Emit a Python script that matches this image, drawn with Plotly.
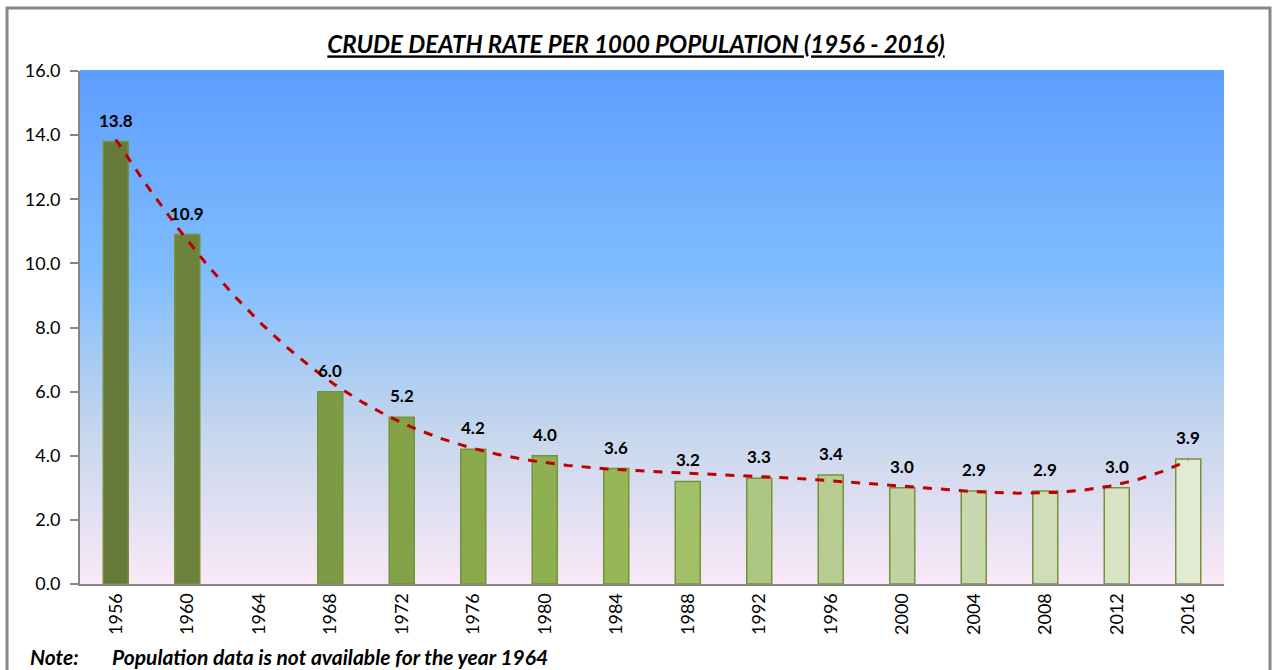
import numpy as np
import plotly.graph_objects as go

# chart data
years = ['1956', '1960', '1964', '1968', '1972', '1976', '1980', '1984',
         '1988', '1992', '1996', '2000', '2004', '2008', '2012', '2016']
death_rate = [13.8, 10.9, None, 6.0, 5.2, 4.2, 4.0, 3.6,
              3.2, 3.3, 3.4, 3.0, 2.9, 2.9, 3.0, 3.9]
y_ticks = [0, 2, 4, 6, 8, 10, 12, 14, 16]

bar_colors = ['#66793a', '#6c823a', '#748e3f', '#7c9b45', '#83a248', '#89a94c',
              '#8fb050', '#97b757', '#a2c068', '#adc782', '#b6cc90', '#c0d3a0',
              '#c9d9af', '#d1ddba', '#d9e3c6', '#e2ead1']

font_name = 'Lato'

idx = list(range(len(years)))

# polynomial trendline (order 6), gaps left out of the fit
fx = np.array([i + 1 for i, v in zip(idx, death_rate) if v is not None], dtype=float)
fy = np.array([v for v in death_rate if v is not None], dtype=float)
coef = np.polyfit(fx, fy, 6)
tx = np.linspace(1, len(years), 300)
ty = np.polyval(coef, tx)

fig = go.Figure()

fig.add_trace(go.Bar(
    x=idx, y=death_rate, width=0.35,
    marker=dict(color=bar_colors, line=dict(color='#76923c', width=1.5)),
    showlegend=False,
))

fig.add_trace(go.Scatter(
    x=tx - 1, y=ty, mode='lines',
    line=dict(color='#c00000', width=3, dash='dash'),
    showlegend=False, hoverinfo='skip',
))

# value labels above the bars
labels = []
for i, v in zip(idx, death_rate):
    if v is None:
        continue
    labels.append(dict(x=i, y=v, text=f'<b>{v:.1f}</b>', showarrow=False,
                       xanchor='center', yanchor='bottom', yshift=9,
                       font=dict(size=17, color='black')))

# gradient plot background
stops = [(0.0, (250, 232, 247)), (0.3, (197, 214, 236)),
         (0.6, (128, 189, 254)), (1.0, (94, 158, 254))]


def grad(t):
    for (t0, c0), (t1, c1) in zip(stops[:-1], stops[1:]):
        if t <= t1:
            f = (t - t0) / (t1 - t0)
            return 'rgb(%d,%d,%d)' % tuple(round(a + (b - a) * f) for a, b in zip(c0, c1))
    return 'rgb(%d,%d,%d)' % stops[-1][1]


n = 120
shapes = []
for k in range(n):
    shapes.append(dict(type='rect', xref='x domain', yref='y domain',
                       x0=0, x1=1, y0=k / n, y1=(k + 1) / n + 0.002,
                       fillcolor=grad((k + 0.5) / n), line=dict(width=0), layer='below'))

# outer chart border
shapes.append(dict(type='rect', xref='paper', yref='paper',
                   x0=-0.0638, x1=1.0402, y0=-0.25, y1=1.1228,
                   line=dict(color='#878787', width=3)))

note_font = dict(size=21)
fig.update_layout(
    width=1272, height=670,
    margin=dict(l=80, r=48, t=71, b=86),
    paper_bgcolor='white', plot_bgcolor='white',
    font=dict(family=font_name, color='black'),
    title=dict(text='<u><b><i>CRUDE DEATH RATE PER 1000 POPULATION (1956 - 2016)</i></b></u>',
               x=0.5, xanchor='center', y=1 - 45 / 670, yanchor='middle',
               font=dict(size=24, family=font_name)),
    shapes=shapes,
    bargap=0.65,
    annotations=labels + [
        dict(text='<b><i>Note:</i></b>', xref='paper', yref='paper', x=-0.0455, y=-0.1423,
             xanchor='left', yanchor='middle', showarrow=False, font=note_font),
        dict(text='<b><i>Population data is not available for the year 1964</i></b>',
             xref='paper', yref='paper', x=0.0262, y=-0.1423,
             xanchor='left', yanchor='middle', showarrow=False, font=note_font),
    ],
)

fig.update_xaxes(range=[-0.5, len(years) - 0.5], tickvals=idx, ticktext=years,
                 tickangle=-90, tickfont=dict(size=18), showgrid=False,
                 showline=True, linecolor='#868686', linewidth=2, ticks='', zeroline=False)
fig.update_yaxes(range=[0, 16], tickvals=y_ticks, tickformat='.1f',
                 tickfont=dict(size=18), showgrid=False, showline=True,
                 linecolor='#868686', linewidth=2, ticks='outside', ticklen=8,
                 tickcolor='#868686', tickwidth=2, zeroline=False,
                 ticklabelstandoff=6)

fig.write_html('out.html', config={'displayModeBar': False},
               post_script="document.body.style.margin='0';")
